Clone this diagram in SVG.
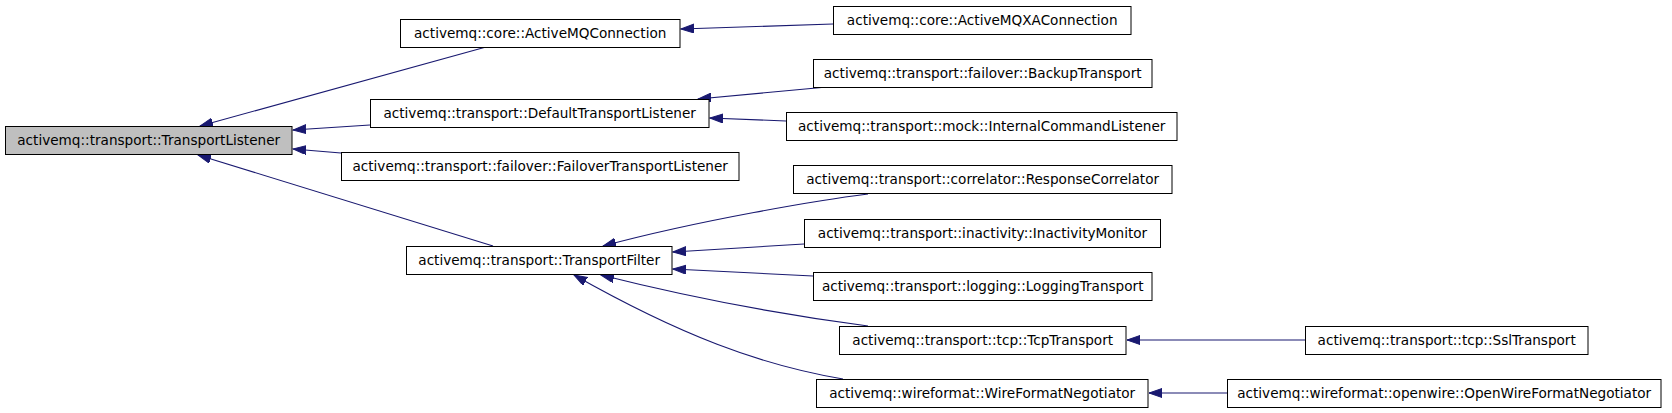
<svg xmlns="http://www.w3.org/2000/svg" width="1672" height="413" viewBox="0 0 1672 413">
<style>
.n rect{fill:#fff;stroke:#000;stroke-width:1}
.n.root rect{fill:#bfbfbf}
.n text{font-family:"DejaVu Sans","Liberation Sans",sans-serif;font-size:13.6px;fill:#000;text-anchor:middle}
.e path{fill:none;stroke:#191970;stroke-width:1.1;marker-end:url(#ah)}
</style>
<defs>
<marker id="ah" markerUnits="userSpaceOnUse" markerWidth="14" markerHeight="10" refX="13" refY="4.5" orient="auto">
<path d="M0,0 L13,4.5 L0,9 z" fill="#191970" stroke="#191970" stroke-width="1"/>
</marker>
</defs>
<rect width="1672" height="413" fill="#fff"/>
<g id="connectors" class="e">
<path d="M833,24 L681,29"/>
<path d="M486,47 L200,126"/>
<path d="M370,125 L293,130"/>
<path d="M341,153 L293,149"/>
<path d="M493,246 L198,155"/>
<path d="M827,87 L698,99"/>
<path d="M786,121 L710,118"/>
<path d="M868,194 C820,200 700,220 603,246"/>
<path d="M804,244 L673,252"/>
<path d="M813,276 L673,269"/>
<path d="M868,326 C800,317 700,300 601,275"/>
<path d="M843,379 C760,365 680,335 574,275"/>
<path d="M1305,340 L1127,340"/>
<path d="M1227,393 L1149,393"/>
</g>
<g id="TransportListener" class="n root"><rect x="5.5" y="126.5" width="286.5" height="28"/><text x="148.7" y="145">activemq::transport::TransportListener</text></g>
<g id="ActiveMQConnection" class="n"><rect x="400.5" y="19.5" width="279.5" height="28"/><text x="540.2" y="38">activemq::core::ActiveMQConnection</text></g>
<g id="ActiveMQXAConnection" class="n"><rect x="833.5" y="6.5" width="297.5" height="28"/><text x="982.2" y="25">activemq::core::ActiveMQXAConnection</text></g>
<g id="DefaultTransportListener" class="n"><rect x="370.5" y="99.5" width="338.5" height="28"/><text x="539.7" y="118">activemq::transport::DefaultTransportListener</text></g>
<g id="BackupTransport" class="n"><rect x="813.5" y="59.5" width="338.5" height="28"/><text x="982.7" y="78">activemq::transport::failover::BackupTransport</text></g>
<g id="InternalCommandListener" class="n"><rect x="786.5" y="112.5" width="390.5" height="28"/><text x="981.7" y="131">activemq::transport::mock::InternalCommandListener</text></g>
<g id="FailoverTransportListener" class="n"><rect x="341.5" y="152.5" width="397.5" height="28"/><text x="540.2" y="171">activemq::transport::failover::FailoverTransportListener</text></g>
<g id="ResponseCorrelator" class="n"><rect x="793.5" y="165.5" width="378.5" height="28"/><text x="982.7" y="184">activemq::transport::correlator::ResponseCorrelator</text></g>
<g id="TransportFilter" class="n"><rect x="406.5" y="246.5" width="265.5" height="28"/><text x="539.2" y="265">activemq::transport::TransportFilter</text></g>
<g id="InactivityMonitor" class="n"><rect x="804.5" y="219.5" width="356" height="28"/><text x="982.5" y="238">activemq::transport::inactivity::InactivityMonitor</text></g>
<g id="LoggingTransport" class="n"><rect x="813.5" y="272.5" width="338.5" height="28"/><text x="982.7" y="291">activemq::transport::logging::LoggingTransport</text></g>
<g id="TcpTransport" class="n"><rect x="839.5" y="326.5" width="286.5" height="28"/><text x="982.7" y="345">activemq::transport::tcp::TcpTransport</text></g>
<g id="SslTransport" class="n"><rect x="1305.5" y="326.5" width="282.5" height="28"/><text x="1446.7" y="345">activemq::transport::tcp::SslTransport</text></g>
<g id="WireFormatNegotiator" class="n"><rect x="816.5" y="379.5" width="331.5" height="28"/><text x="982.2" y="398">activemq::wireformat::WireFormatNegotiator</text></g>
<g id="OpenWireFormatNegotiator" class="n"><rect x="1227.5" y="379.5" width="433.5" height="28"/><text x="1444.2" y="398">activemq::wireformat::openwire::OpenWireFormatNegotiator</text></g>
</svg>
